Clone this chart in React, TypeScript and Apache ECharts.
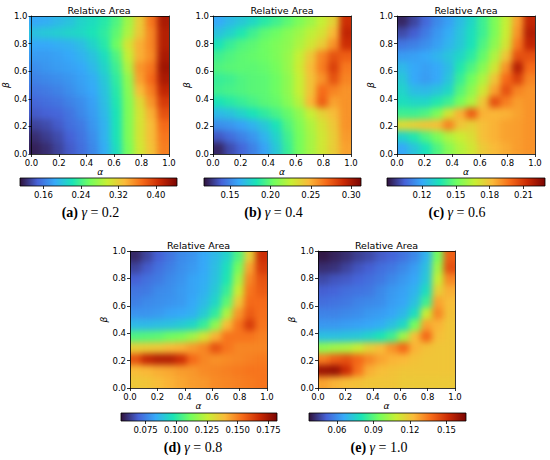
import { useEffect, useRef } from "react";
import * as echarts from "echarts";

// Cell centres of the heat-map grids (alpha left→right, beta bottom→top)
const ALPHA_CELLS = ["0.04", "0.13", "0.21", "0.29", "0.38", "0.46", "0.54", "0.63", "0.71", "0.79", "0.88", "0.96"];
const BETA_CELLS = ["0.04", "0.13", "0.21", "0.29", "0.38", "0.46", "0.54", "0.63", "0.71", "0.79", "0.88", "0.96"];

const GAMMAS = ["0.2", "0.4", "0.6", "0.8", "1.0"];
const PANEL_TAGS = ["a", "b", "c", "d", "e"];
const TITLE = "Relative Area";

// Relative area, rows listed from beta≈0.96 (top) down to beta≈0.04 (bottom)
const AREA_G02 = [
  [0.184, 0.187, 0.194, 0.200, 0.211, 0.217, 0.227, 0.244, 0.278, 0.321, 0.365, 0.422],
  [0.200, 0.204, 0.207, 0.211, 0.214, 0.221, 0.231, 0.251, 0.284, 0.324, 0.358, 0.418],
  [0.184, 0.184, 0.187, 0.190, 0.197, 0.211, 0.227, 0.257, 0.304, 0.338, 0.358, 0.418],
  [0.177, 0.177, 0.180, 0.184, 0.190, 0.200, 0.217, 0.244, 0.294, 0.338, 0.355, 0.422],
  [0.170, 0.174, 0.177, 0.180, 0.184, 0.194, 0.211, 0.237, 0.284, 0.351, 0.365, 0.428],
  [0.164, 0.167, 0.170, 0.174, 0.180, 0.187, 0.204, 0.231, 0.271, 0.345, 0.371, 0.422],
  [0.157, 0.160, 0.164, 0.170, 0.177, 0.184, 0.200, 0.227, 0.267, 0.331, 0.361, 0.412],
  [0.150, 0.154, 0.157, 0.164, 0.170, 0.180, 0.197, 0.224, 0.264, 0.311, 0.351, 0.398],
  [0.144, 0.147, 0.150, 0.157, 0.167, 0.177, 0.194, 0.221, 0.264, 0.304, 0.338, 0.385],
  [0.133, 0.137, 0.144, 0.154, 0.160, 0.174, 0.190, 0.221, 0.264, 0.304, 0.331, 0.371],
  [0.123, 0.130, 0.137, 0.147, 0.157, 0.170, 0.190, 0.221, 0.264, 0.304, 0.331, 0.365],
  [0.117, 0.123, 0.133, 0.144, 0.154, 0.167, 0.187, 0.217, 0.261, 0.301, 0.328, 0.361],
];
const AREA_G04 = [
  [0.161, 0.167, 0.172, 0.178, 0.186, 0.192, 0.199, 0.207, 0.215, 0.225, 0.238, 0.289],
  [0.170, 0.176, 0.184, 0.192, 0.199, 0.203, 0.209, 0.215, 0.223, 0.231, 0.248, 0.293],
  [0.182, 0.190, 0.196, 0.199, 0.203, 0.207, 0.211, 0.219, 0.229, 0.240, 0.258, 0.289],
  [0.192, 0.196, 0.199, 0.201, 0.203, 0.207, 0.213, 0.225, 0.242, 0.262, 0.277, 0.273],
  [0.196, 0.198, 0.199, 0.199, 0.201, 0.205, 0.213, 0.227, 0.246, 0.264, 0.283, 0.265],
  [0.190, 0.192, 0.196, 0.198, 0.199, 0.203, 0.211, 0.225, 0.244, 0.258, 0.277, 0.262],
  [0.192, 0.194, 0.196, 0.198, 0.199, 0.203, 0.211, 0.225, 0.244, 0.269, 0.262, 0.258],
  [0.182, 0.186, 0.190, 0.194, 0.198, 0.201, 0.209, 0.221, 0.248, 0.273, 0.254, 0.258],
  [0.167, 0.170, 0.176, 0.182, 0.188, 0.194, 0.201, 0.211, 0.225, 0.238, 0.246, 0.258],
  [0.153, 0.155, 0.159, 0.165, 0.172, 0.182, 0.196, 0.207, 0.219, 0.231, 0.242, 0.258],
  [0.137, 0.143, 0.149, 0.155, 0.165, 0.176, 0.192, 0.205, 0.217, 0.229, 0.240, 0.256],
  [0.124, 0.134, 0.141, 0.149, 0.159, 0.172, 0.190, 0.205, 0.217, 0.229, 0.240, 0.254],
];
const AREA_G06 = [
  [0.093, 0.099, 0.106, 0.113, 0.118, 0.125, 0.132, 0.142, 0.153, 0.166, 0.187, 0.215],
  [0.100, 0.104, 0.110, 0.116, 0.121, 0.127, 0.134, 0.142, 0.153, 0.167, 0.190, 0.218],
  [0.109, 0.111, 0.114, 0.118, 0.123, 0.128, 0.135, 0.145, 0.156, 0.170, 0.195, 0.215],
  [0.117, 0.118, 0.120, 0.123, 0.127, 0.132, 0.139, 0.149, 0.162, 0.179, 0.204, 0.204],
  [0.124, 0.120, 0.118, 0.120, 0.125, 0.137, 0.145, 0.155, 0.169, 0.190, 0.218, 0.198],
  [0.128, 0.120, 0.117, 0.120, 0.127, 0.141, 0.151, 0.162, 0.179, 0.198, 0.208, 0.193],
  [0.131, 0.125, 0.124, 0.127, 0.132, 0.146, 0.156, 0.169, 0.187, 0.204, 0.193, 0.190],
  [0.134, 0.132, 0.132, 0.137, 0.142, 0.152, 0.162, 0.179, 0.204, 0.194, 0.188, 0.190],
  [0.142, 0.142, 0.145, 0.153, 0.170, 0.184, 0.201, 0.184, 0.183, 0.184, 0.187, 0.190],
  [0.173, 0.176, 0.179, 0.181, 0.193, 0.179, 0.176, 0.181, 0.184, 0.187, 0.188, 0.190],
  [0.131, 0.137, 0.145, 0.153, 0.162, 0.167, 0.172, 0.181, 0.184, 0.187, 0.188, 0.190],
  [0.120, 0.127, 0.135, 0.145, 0.155, 0.163, 0.169, 0.178, 0.182, 0.185, 0.188, 0.190],
];
const AREA_G08 = [
  [0.059, 0.064, 0.069, 0.073, 0.077, 0.079, 0.083, 0.087, 0.093, 0.106, 0.134, 0.167],
  [0.064, 0.068, 0.072, 0.075, 0.078, 0.080, 0.083, 0.088, 0.096, 0.112, 0.144, 0.164],
  [0.069, 0.072, 0.074, 0.077, 0.079, 0.082, 0.084, 0.089, 0.098, 0.119, 0.149, 0.159],
  [0.073, 0.074, 0.077, 0.078, 0.080, 0.082, 0.085, 0.091, 0.102, 0.126, 0.152, 0.157],
  [0.075, 0.077, 0.078, 0.079, 0.080, 0.083, 0.087, 0.094, 0.108, 0.136, 0.154, 0.154],
  [0.079, 0.079, 0.080, 0.082, 0.083, 0.085, 0.091, 0.101, 0.121, 0.146, 0.157, 0.153],
  [0.087, 0.087, 0.088, 0.089, 0.091, 0.094, 0.102, 0.116, 0.139, 0.152, 0.164, 0.152],
  [0.106, 0.107, 0.108, 0.111, 0.113, 0.119, 0.129, 0.141, 0.152, 0.152, 0.152, 0.150],
  [0.134, 0.135, 0.136, 0.139, 0.141, 0.145, 0.149, 0.159, 0.152, 0.149, 0.149, 0.149],
  [0.159, 0.169, 0.172, 0.172, 0.167, 0.154, 0.149, 0.147, 0.148, 0.149, 0.150, 0.151],
  [0.139, 0.140, 0.142, 0.143, 0.145, 0.146, 0.148, 0.149, 0.150, 0.151, 0.152, 0.152],
  [0.136, 0.137, 0.139, 0.141, 0.143, 0.145, 0.146, 0.148, 0.149, 0.150, 0.151, 0.152],
];
const AREA_G10 = [
  [0.038, 0.040, 0.042, 0.045, 0.047, 0.050, 0.052, 0.055, 0.059, 0.068, 0.095, 0.140],
  [0.042, 0.043, 0.046, 0.049, 0.051, 0.054, 0.056, 0.059, 0.063, 0.071, 0.102, 0.143],
  [0.047, 0.049, 0.050, 0.052, 0.054, 0.056, 0.059, 0.062, 0.065, 0.073, 0.108, 0.132],
  [0.051, 0.052, 0.054, 0.055, 0.056, 0.059, 0.062, 0.064, 0.068, 0.078, 0.117, 0.125],
  [0.054, 0.055, 0.056, 0.058, 0.059, 0.060, 0.063, 0.065, 0.071, 0.086, 0.127, 0.122],
  [0.058, 0.058, 0.059, 0.060, 0.062, 0.063, 0.065, 0.069, 0.078, 0.109, 0.132, 0.121],
  [0.062, 0.062, 0.063, 0.064, 0.065, 0.067, 0.071, 0.077, 0.095, 0.127, 0.124, 0.120],
  [0.071, 0.071, 0.072, 0.073, 0.076, 0.080, 0.086, 0.102, 0.122, 0.138, 0.122, 0.120],
  [0.099, 0.102, 0.104, 0.109, 0.117, 0.122, 0.130, 0.138, 0.124, 0.121, 0.120, 0.120],
  [0.134, 0.140, 0.143, 0.138, 0.132, 0.127, 0.124, 0.123, 0.121, 0.120, 0.120, 0.120],
  [0.160, 0.161, 0.151, 0.136, 0.125, 0.122, 0.121, 0.120, 0.120, 0.120, 0.120, 0.120],
  [0.127, 0.124, 0.122, 0.121, 0.120, 0.120, 0.120, 0.119, 0.119, 0.119, 0.119, 0.119],
];
const AREAS = [AREA_G02, AREA_G04, AREA_G06, AREA_G08, AREA_G10];

// Colour-bar extents and tick labels
const CBAR_RANGES = [
  [0.11, 0.445],
  [0.118, 0.312],
  [0.089, 0.229],
  [0.055, 0.182],
  [0.037, 0.166],
];
const CBAR_TICKS = [
  [0.16, 0.24, 0.32, 0.4],
  [0.15, 0.2, 0.25, 0.3],
  [0.12, 0.15, 0.18, 0.21],
  [0.075, 0.1, 0.125, 0.15, 0.175],
  [0.06, 0.09, 0.12, 0.15],
];
const CBAR_DECIMALS = [2, 2, 2, 3, 2];

const TURBO = ["#30123b", "#4662d7", "#36aaf9", "#1ae4b6", "#72fe5e", "#c8ef34", "#faba39", "#f66b19", "#ca2a04", "#7a0403"];

// Layout (pixels): plot box, colour-bar box, title centre, caption centre
const LAYOUT = [
  { plot: [29, 16, 140, 138], bar: [20, 178, 157, 8], title: [99, 10], caption: [90.5, 212] },
  { plot: [213, 16, 138, 138], bar: [204, 178, 157, 8], title: [282, 10], caption: [273.5, 212] },
  { plot: [397, 16, 138, 138], bar: [387, 178, 158, 8], title: [466, 10], caption: [457, 212] },
  { plot: [130, 251, 137, 137], bar: [121, 413, 156, 8], title: [198.5, 245], caption: [193, 447] },
  { plot: [318, 251, 137, 137], bar: [309, 413, 157, 8], title: [386.5, 245], caption: [379, 447] },
];

const FONT = "DejaVu Sans";
const SERIF = "Liberation Serif";
const LINE = { color: "#000", width: 0.8 };

function heatmapOption(i: number) {
  const [vmin, vmax] = CBAR_RANGES[i];
  const rows = AREAS[i];
  const n = rows.length;
  const data: number[][] = [];
  rows.forEach((row, r) => row.forEach((v, c) => data.push([c, n - 1 - r, v])));
  return {
    animation: false,
    grid: { left: 0, right: 0, top: 0, bottom: 0, containLabel: false },
    xAxis: { type: "category", data: ALPHA_CELLS, show: false },
    yAxis: { type: "category", data: BETA_CELLS, show: false },
    visualMap: { type: "continuous", show: false, dimension: 2, min: vmin, max: vmax, inRange: { color: TURBO } },
    series: [{ type: "heatmap", data, progressive: 0, emphasis: { disabled: true }, itemStyle: { borderWidth: 0 } }],
  };
}

function frameOption() {
  const grid: any[] = [];
  const xAxis: any[] = [];
  const yAxis: any[] = [];
  const series: any[] = [];
  const graphic: any[] = [];

  LAYOUT.forEach((lay, i) => {
    const [pl, pt, pw, ph] = lay.plot;
    const [bl, bt, bw, bh] = lay.bar;
    const [vmin, vmax] = CBAR_RANGES[i];
    const ticks = CBAR_TICKS[i];
    const dec = CBAR_DECIMALS[i];

    grid.push({ left: pl, top: pt, width: pw, height: ph, containLabel: false });
    grid.push({ left: bl, top: bt, width: bw, height: bh, containLabel: false });

    const labelStyle = { color: "#000", fontSize: 8.5, fontFamily: FONT };
    const nameStyle = { color: "#000", fontSize: 9, fontFamily: FONT, fontStyle: "italic" };

    xAxis.push({
      type: "value", gridIndex: 2 * i, position: "bottom", min: 0, max: 1, interval: 0.2, z: 10,
      axisLine: { show: true, onZero: false, lineStyle: LINE },
      axisTick: { show: true, inside: false, length: 3, lineStyle: LINE },
      axisLabel: { ...labelStyle, margin: 4, formatter: (v: number) => v.toFixed(1) },
      splitLine: { show: false },
      name: "α", nameLocation: "middle", nameGap: 11, nameTextStyle: nameStyle,
    });
    xAxis.push({
      type: "category", gridIndex: 2 * i, position: "top", data: ALPHA_CELLS, z: 10,
      axisLine: { show: true, onZero: false, lineStyle: LINE },
      axisTick: { show: false }, axisLabel: { show: false }, splitLine: { show: false },
    });
    xAxis.push({
      type: "value", gridIndex: 2 * i + 1, position: "bottom", min: vmin, max: vmax, z: 10,
      axisLine: { show: false },
      axisTick: { show: true, length: 3, customValues: ticks, lineStyle: LINE },
      axisLabel: { ...labelStyle, margin: 4, customValues: ticks, formatter: (v: number) => v.toFixed(dec) },
      splitLine: { show: false },
    });

    yAxis.push({
      type: "value", gridIndex: 2 * i, position: "left", min: 0, max: 1, interval: 0.2, z: 10,
      axisLine: { show: true, onZero: false, lineStyle: LINE },
      axisTick: { show: true, inside: false, length: 3, lineStyle: LINE },
      axisLabel: { ...labelStyle, margin: 4, formatter: (v: number) => v.toFixed(1) },
      splitLine: { show: false },
      name: "β", nameLocation: "middle", nameGap: 16, nameTextStyle: nameStyle,
    });
    yAxis.push({
      type: "category", gridIndex: 2 * i, position: "right", data: BETA_CELLS, z: 10,
      axisLine: { show: true, onZero: false, lineStyle: LINE },
      axisTick: { show: false }, axisLabel: { show: false }, splitLine: { show: false },
    });
    yAxis.push({ type: "value", gridIndex: 2 * i + 1, min: 0, max: 1, show: false });

    series.push({
      type: "custom", xAxisIndex: 3 * i + 2, yAxisIndex: 3 * i + 2, silent: true,
      data: [[vmin, vmax]],
      renderItem: (params: any, api: any) => {
        const cs = params.coordSys;
        const x0 = api.coord([api.value(0), 0])[0];
        const x1 = api.coord([api.value(1), 0])[0];
        return {
          type: "rect",
          shape: { x: x0, y: cs.y, width: x1 - x0, height: cs.height },
          style: {
            fill: new echarts.graphic.LinearGradient(0, 0, 1, 0,
              TURBO.map((c, k) => ({ offset: k / (TURBO.length - 1), color: c }))),
            stroke: "#000", lineWidth: 0.8,
          },
        };
      },
    });

    graphic.push({
      type: "text", x: lay.title[0], y: lay.title[1],
      style: {
        text: TITLE, fill: "#000", fontSize: 9.5, fontFamily: FONT,
        align: "center", verticalAlign: "middle", textAlign: "center", textVerticalAlign: "middle",
      },
    });
    graphic.push({
      type: "text", x: lay.caption[0], y: lay.caption[1],
      style: {
        text: `{b|(${PANEL_TAGS[i]})} {m|γ} {n|= ${GAMMAS[i]}}`,
        fill: "#000", fontSize: 14, fontFamily: SERIF,
        align: "center", verticalAlign: "middle", textAlign: "center", textVerticalAlign: "middle",
        rich: {
          b: { fontFamily: SERIF, fontWeight: "bold", fontSize: 14, fill: "#000" },
          m: { fontFamily: SERIF, fontStyle: "italic", fontSize: 14, fill: "#000" },
          n: { fontFamily: SERIF, fontSize: 14, fill: "#000" },
        },
      },
    });
  });

  return { animation: false, backgroundColor: "transparent", grid, xAxis, yAxis, series, graphic };
}

export default function App() {
  const frameRef = useRef<HTMLDivElement>(null);
  const heatRefs = useRef<(HTMLDivElement | null)[]>([]);

  useEffect(() => {
    document.body.style.margin = "0";
    const charts: echarts.ECharts[] = [];
    heatRefs.current.forEach((el, i) => {
      if (!el) return;
      const c = echarts.init(el, null, { renderer: "svg" });
      c.setOption(heatmapOption(i) as any);
      charts.push(c);
    });
    const frame = echarts.init(frameRef.current!, null, { renderer: "svg" });
    frame.setOption(frameOption() as any);
    charts.push(frame);
    return () => charts.forEach((c) => c.dispose());
  }, []);

  return (
    <div style={{ position: "relative", width: 550, height: 460, background: "#fff" }}>
      <svg width="0" height="0" style={{ position: "absolute" }}>
        <defs>
          <filter id="smoothHeat" colorInterpolationFilters="sRGB">
            <feGaussianBlur stdDeviation="3.2" />
            <feComponentTransfer>
              <feFuncA type="linear" slope="60" intercept="0" />
            </feComponentTransfer>
          </filter>
        </defs>
      </svg>
      {LAYOUT.map((lay, i) => (
        <div
          key={i}
          style={{
            position: "absolute", left: lay.plot[0], top: lay.plot[1],
            width: lay.plot[2], height: lay.plot[3], overflow: "hidden",
          }}
        >
          <div
            ref={(el) => { heatRefs.current[i] = el; }}
            style={{ width: lay.plot[2], height: lay.plot[3], filter: "url(#smoothHeat)" }}
          />
        </div>
      ))}
      <div ref={frameRef} style={{ position: "absolute", left: 0, top: 0, width: 550, height: 460 }} />
    </div>
  );
}
